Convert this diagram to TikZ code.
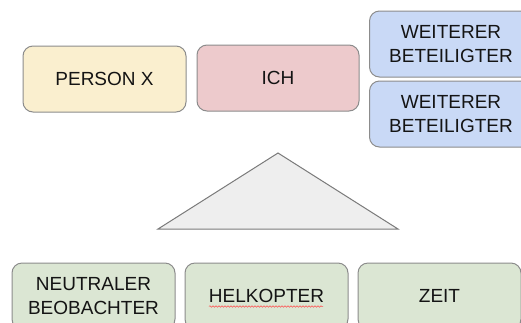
\documentclass[tikz,border=0pt]{standalone}
\usepackage{fontspec}
\setmainfont{Liberation Sans}
\usetikzlibrary{decorations.pathmorphing}
\definecolor{boxline}{HTML}{8C8C8C}
\definecolor{yel}{HTML}{FAEFCF}
\definecolor{pnk}{HTML}{EDCACC}
\definecolor{blu}{HTML}{C9D9F6}
\definecolor{grn}{HTML}{DBE6D3}
\definecolor{tri}{HTML}{EEEEEE}
\definecolor{trline}{HTML}{7A7A7A}
\definecolor{txt}{HTML}{141414}
\tikzset{
  card/.style={draw=boxline, line width=1pt, rounded corners=10pt,
    minimum width=163pt, minimum height=66pt, inner sep=0pt,
    align=center, text=txt, font=\fontsize{19}{24}\selectfont},
}
\begin{document}
\begin{tikzpicture}[x=1pt,y=-1pt]
\useasboundingbox (0,0) rectangle (521,322);
\clip (0,0) rectangle (521,322);
\fill[white] (0,0) rectangle (521,322);
\node[card, fill=yel] (px) at (104.5,79) {PERSON X};
\node[card, fill=pnk, minimum width=162pt] (ich) at (278,78) {ICH};
\node[card, fill=blu] (w1) at (451,44) {WEITERER\\BETEILIGTER};
\node[card, fill=blu] (w2) at (451,114) {WEITERER\\BETEILIGTER};
\coordinate (ta) at (278,153);
\coordinate (tl) at (158,229);
\coordinate (tr) at (398,229);
\draw[fill=tri, draw=trline, line width=1pt, line join=miter] (ta) -- (tl) -- (tr) -- cycle;
\node[card, fill=grn] (nb) at (93.5,296) {NEUTRALER\\BEOBACHTER};
\node[card, fill=grn] (hk) at (266.5,296) {HELKOPTER};
\node[card, fill=grn] (zt) at (439.5,296) {ZEIT};
\coordinate (ul) at (209,306.5);
\coordinate (ur) at (323,306.5);
\draw[red!70, line width=0.5pt, decorate, decoration={snake, amplitude=0.8pt, segment length=3pt}] (ul) -- (ur);
\end{tikzpicture}
\end{document}
